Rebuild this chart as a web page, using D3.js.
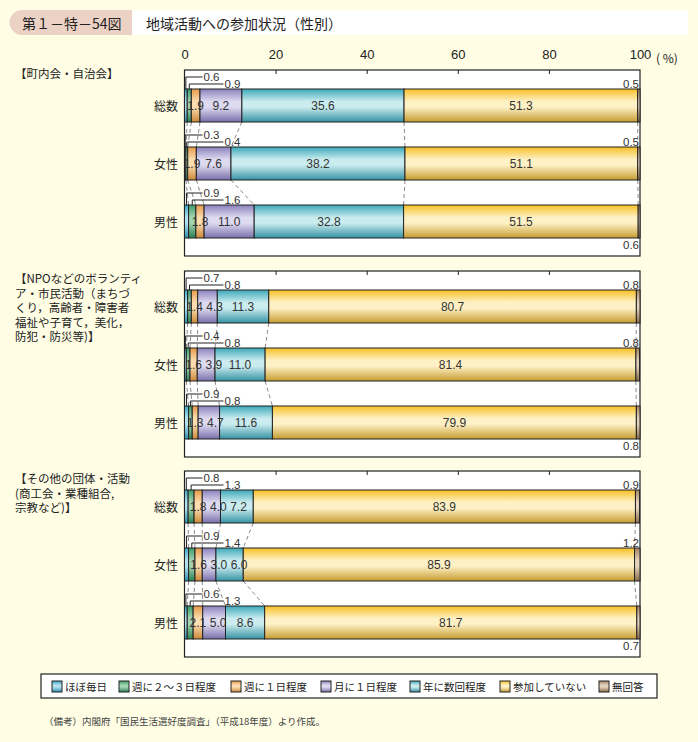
<!DOCTYPE html>
<html><head><meta charset="utf-8">
<script src="https://cdn.jsdelivr.net/npm/d3@7"></script>
<style>
html,body{margin:0;padding:0;background:#FFFDE4;}
svg{display:block;font-family:"Liberation Sans","Noto Sans CJK JP",sans-serif;}
.jp{font-family:"Noto Sans CJK JP","Liberation Sans",sans-serif;}
</style></head>
<body>
<svg id="chart" width="698" height="742"></svg>
<script>
const titleNum = "第１－特－54図";
const titleText = "地域活動への参加状況（性別）";
const categories = ["ほぼ毎日","週に２～３日程度","週に１日程度","月に１日程度","年に数回程度","参加していない","無回答"];
const groups = ["総数","女性","男性"];
const panelLabels = [
  ["【町内会・自治会】"],
  ["【NPOなどのボランティ","ア・市民活動（まちづ","くり，高齢者・障害者","福祉や子育て，美化，","防犯・防災等)】"],
  ["【その他の団体・活動","(商工会・業種組合,","宗教など)】"]
];
const chonaikai = [
  [0.6, 0.9, 1.9, 9.2, 35.6, 51.3, 0.5],
  [0.3, 0.4, 1.9, 7.6, 38.2, 51.1, 0.5],
  [0.9, 1.6, 1.8, 11.0, 32.8, 51.5, 0.6]
];
const npo = [
  [0.7, 0.8, 1.4, 4.3, 11.3, 80.7, 0.8],
  [0.4, 0.8, 1.6, 3.9, 11.0, 81.4, 0.8],
  [0.9, 0.8, 1.3, 4.7, 11.6, 79.9, 0.8]
];
const otherGroups = [
  [0.8, 1.3, 1.8, 4.0, 7.2, 83.9, 0.9],
  [0.9, 1.4, 1.6, 3.0, 6.0, 85.9, 1.2],
  [0.6, 1.3, 2.1, 5.0, 8.6, 81.7, 0.7]
];
const axisTicks = [0,20,40,60,80,100];
const footnote = "（備考）内閣府「国民生活選好度調査」（平成18年度）より作成。";

const panels = [chonaikai, npo, otherGroups];
// gradient colours: top, light, bottom
const palette = [
  ["#3AA6C6","#B2E2F0","#2C8CAE"],
  ["#3C9C68","#A4D4B2","#2A8052"],
  ["#E59A48","#FBDDB0","#CC8838"],
  ["#8A82BC","#DEDAF0","#7870AA"],
  ["#3CA8B8","#CAECEF","#3592A3"],
  ["#F6BF24","#FEF1C6","#C69C30"],
  ["#A58564","#E4D2BC","#8A6C4C"]
];

const svg = d3.select("#chart");
const defs = svg.append("defs");
palette.forEach((c,i)=>{
  const g = defs.append("linearGradient").attr("id","g"+i).attr("x1",0).attr("x2",0).attr("y1",0).attr("y2",1);
  [[0,c[0]],[0.38,c[1]],[0.55,c[1]],[1,c[2]]].forEach(s=>g.append("stop").attr("offset",s[0]).attr("stop-color",s[1]));
});

// Title bar
svg.append("rect").attr("x",132).attr("y",10).attr("width",556).attr("height",25).attr("fill","#fff");
svg.append("path").attr("d","M22,10 H132 V35 H22 A12.5,12.5 0 0 1 22,10 Z").attr("fill","#EBD2C4");
svg.append("text").attr("class","jp").attr("x",22).attr("y",23).attr("dominant-baseline","central")
  .attr("font-size",14).attr("fill","#222").text(titleNum);
svg.append("text").attr("class","jp").attr("x",146).attr("y",23).attr("dominant-baseline","central")
  .attr("font-size",14).attr("fill","#222").text(titleText);

const x = d3.scaleLinear().domain([0,100]).range([184.5,640]);

// top axis labels
const axisG = svg.append("g").attr("transform","translate(0,57)")
  .call(d3.axisTop(x).tickValues(axisTicks).tickSize(0).tickFormat(d=>d));
axisG.select(".domain").remove();
axisG.selectAll("text").attr("font-size",13).attr("fill","#222").attr("dy","0.35em")
  .attr("font-family","Liberation Sans, sans-serif");
svg.append("text").attr("class","jp").attr("x",656).attr("y",57).attr("dominant-baseline","central")
  .attr("font-size",12).attr("fill","#222").text("( %)");

const panelTops = [70, 271, 471];
const panelH = 186;

panels.forEach((data,p)=>{
  const top = panelTops[p];
  const y = d3.scaleBand().domain(groups).range([top+19, top+168]).paddingInner(25/58).paddingOuter(0);
  const g = svg.append("g");
  g.append("rect").attr("x",x(0)).attr("y",top).attr("width",x(100)-x(0)).attr("height",panelH)
    .attr("fill","#fff").attr("stroke","#222").attr("stroke-width",1.2);
  const tg = g.append("g").attr("transform",`translate(0,${top})`)
    .call(d3.axisBottom(x).tickValues([20,40,60,80]).tickSize(4).tickFormat(""));
  tg.select(".domain").remove();
  tg.selectAll("line").attr("stroke","#222");

  // panel label
  panelLabels[p].forEach((t,i)=>{
    g.append("text").attr("class","jp").attr("x",15).attr("y",top+ (p===0?3:7) + i*14.5)
      .attr("dominant-baseline","central").attr("font-size",11.5).attr("fill","#222").text(t);
  });

  const cums = data.map(row=>{ let s=0; return row.map(v=>{ const a=s; s+=v; return [a,s]; }); });

  // dashed connectors
  for(let j=0;j<groups.length-1;j++){
    for(let k=0;k<6;k++){
      g.append("line")
        .attr("x1",x(cums[j][k][1])).attr("y1",y(groups[j])+y.bandwidth())
        .attr("x2",x(cums[j+1][k][1])).attr("y2",y(groups[j+1]))
        .attr("stroke","#8a8a8a").attr("stroke-width",1).attr("stroke-dasharray","4,3");
    }
  }

  groups.forEach((gname,j)=>{
    const by = y(gname), bh = y.bandwidth();
    g.append("text").attr("class","jp").attr("x",178).attr("y",by+bh/2).attr("text-anchor","end")
      .attr("dominant-baseline","central").attr("font-size",12).attr("fill","#222").text(gname);
    data[j].forEach((v,k)=>{
      const [a,b] = cums[j][k];
      g.append("rect").attr("x",x(a)).attr("y",by).attr("width",Math.max(0,x(Math.min(b,100))-x(a))).attr("height",bh)
        .attr("fill",`url(#g${k})`).attr("stroke","#222").attr("stroke-width",1);
    });
    // inside labels with simple left-to-right collision avoidance
    let prevRight = -Infinity;
    data[j].forEach((v,k)=>{
      if(k<2||k>5) return;
      const [a,b]=cums[j][k];
      const t = g.append("text").attr("y",by+bh/2).attr("text-anchor","middle")
        .attr("dominant-baseline","central").attr("font-size",12).attr("fill","#333").text(v.toFixed(1));
      const w = t.node().getComputedTextLength();
      let cx = (x(a)+x(b))/2;
      if(cx - w/2 < prevRight + 3.5) cx = prevRight + 3.5 + w/2;
      t.attr("x",cx);
      prevRight = cx + w/2;
    });
    // leader labels
    const x0 = x(0);
    [0,1].forEach(k=>{
      const [a,b]=cums[j][k];
      const cx = (x(a)+x(b))/2;
      const ly = by - (k===0?12:5);
      const lx = x0 + (k===0?19:40);
      g.append("path").attr("d",`M${cx},${by} V${ly} H${lx-1}`).attr("fill","none").attr("stroke","#222").attr("stroke-width",1);
      g.append("text").attr("x",lx).attr("y",ly).attr("dominant-baseline","central")
        .attr("font-size",11.5).attr("fill","#333").text(data[j][k].toFixed(1));
    });
    // no answer label
    const na = data[j][6];
    g.append("text").attr("x",639).attr("y", j<2 ? by-5 : by+bh+7).attr("text-anchor","end")
      .attr("dominant-baseline","central").attr("font-size",11.5).attr("fill","#333").text(na.toFixed(1));
  });
});

// legend
const lg = svg.append("g");
lg.append("rect").attr("x",41).attr("y",674).attr("width",616).attr("height",24).attr("fill","#fff").attr("stroke","#222").attr("stroke-width",1.2);
const legX = [52,119,231,321,410,500,599];
categories.forEach((c,i)=>{
  lg.append("rect").attr("x",legX[i]).attr("y",681).attr("width",10).attr("height",11)
    .attr("fill",`url(#g${i})`).attr("stroke","#222").attr("stroke-width",1);
  lg.append("text").attr("class","jp").attr("x",legX[i]+13).attr("y",686.5).attr("dominant-baseline","central")
    .attr("font-size",10.5).attr("fill","#222").text(c);
});

svg.append("text").attr("class","jp").attr("x",44).attr("y",721).attr("dominant-baseline","central")
  .attr("font-size",9.5).attr("fill","#444").text(footnote);
</script>
</body></html>
